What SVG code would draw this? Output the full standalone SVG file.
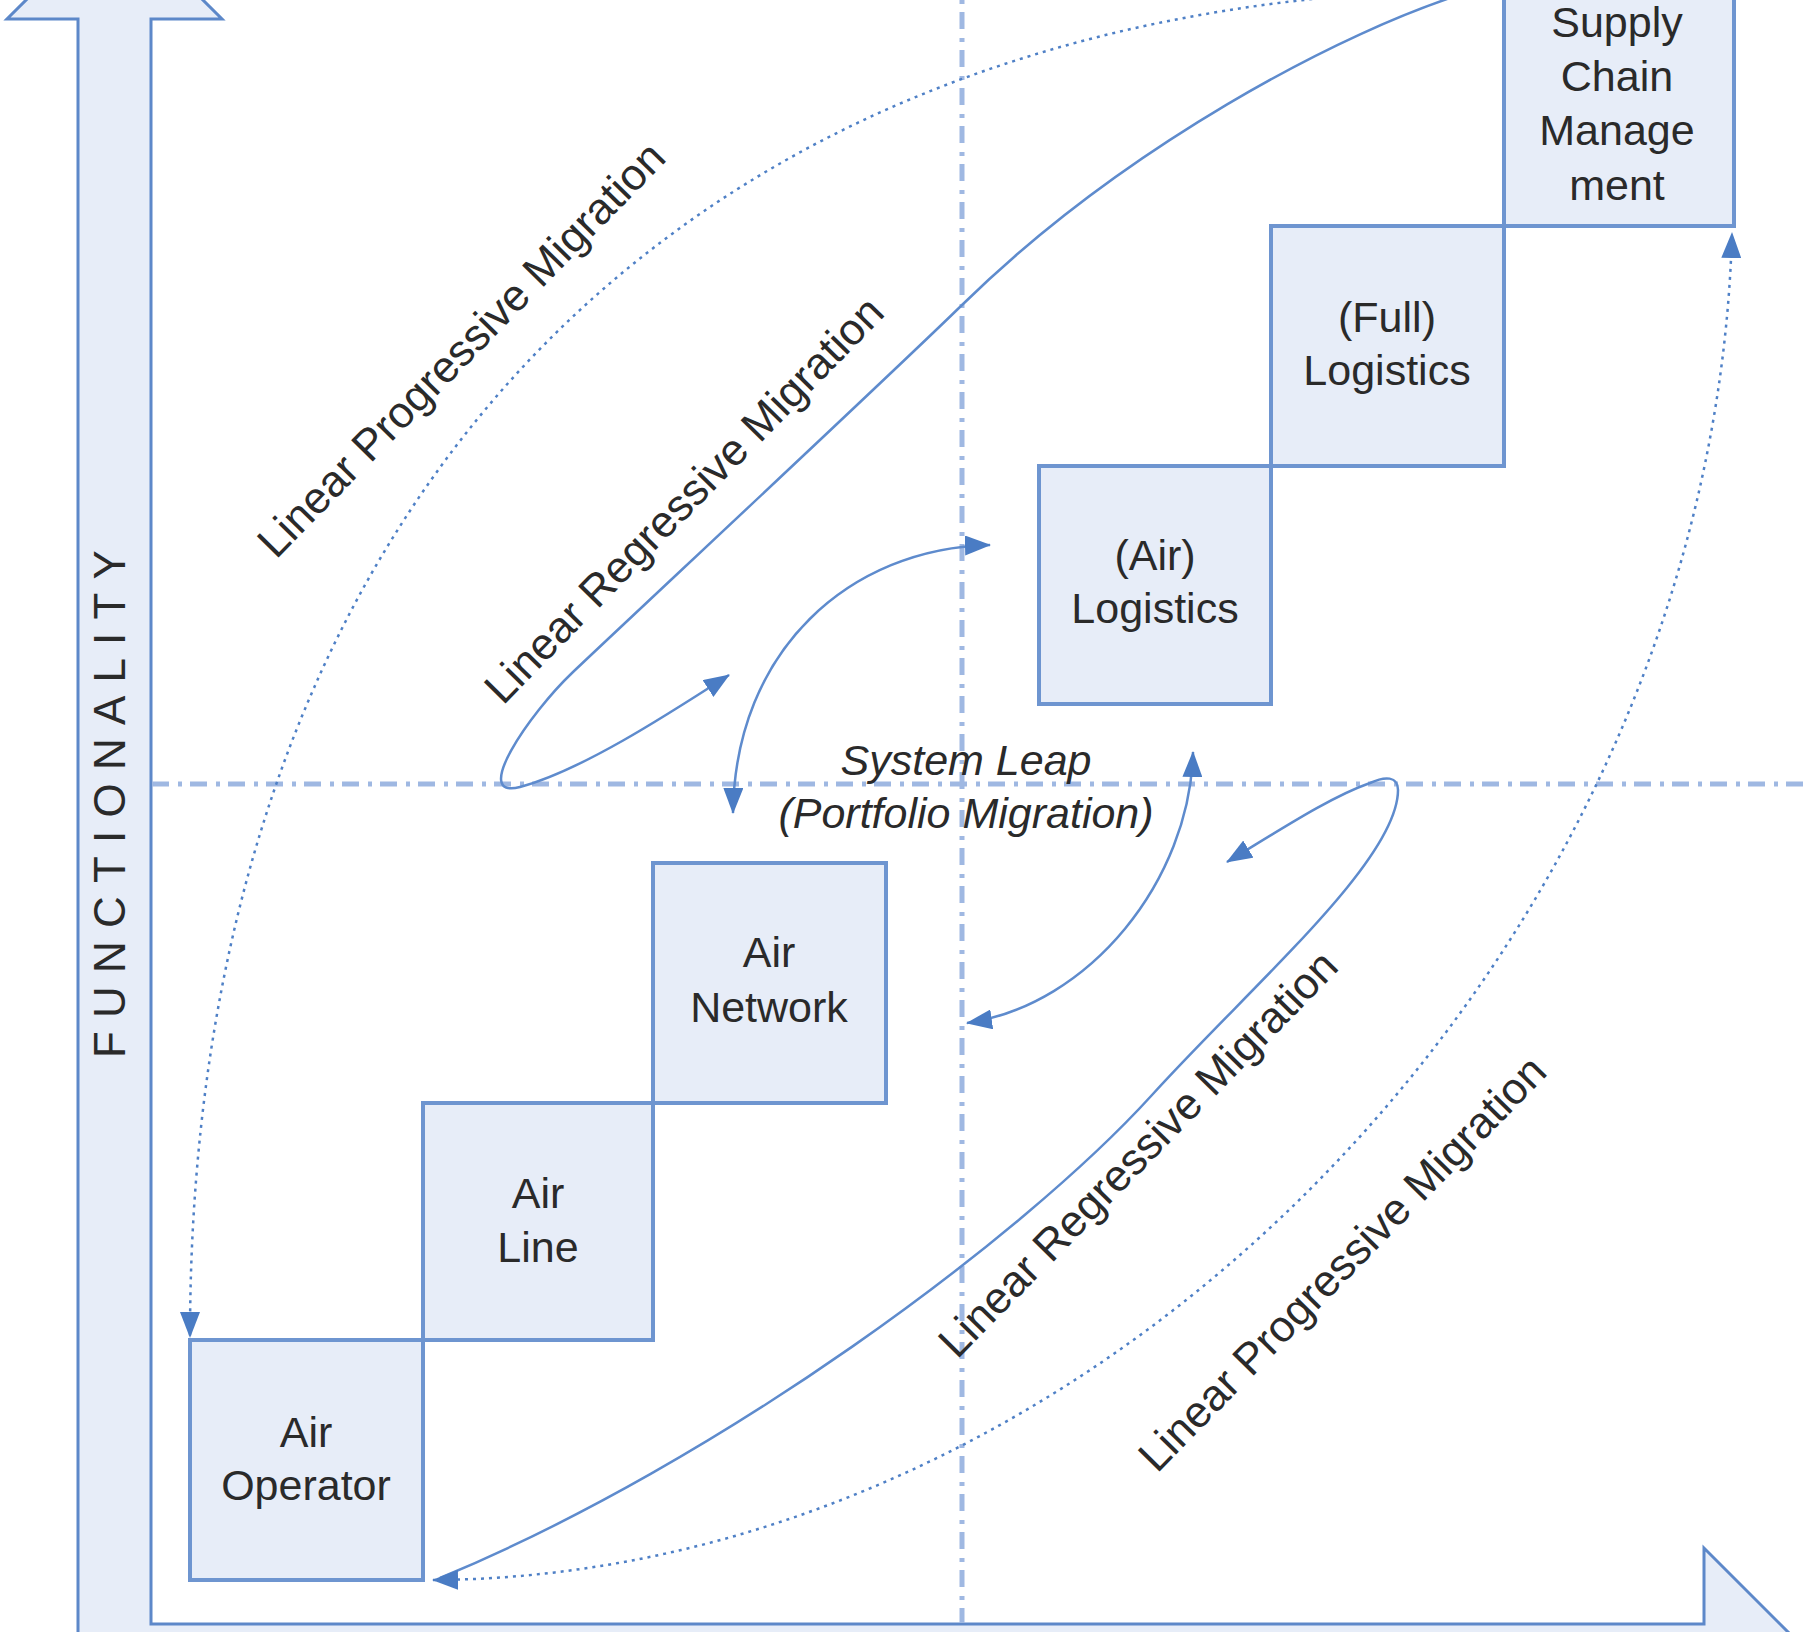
<svg xmlns="http://www.w3.org/2000/svg" width="1807" height="1632" viewBox="0 0 1807 1632">
<style>
.box{fill:#E7EDF8;stroke:#6E95D0;stroke-width:4}
.lbl{font-family:"Liberation Sans",Arial,sans-serif;font-size:43px;fill:#2A2A2A;text-anchor:middle}
.rot{font-family:"Liberation Sans",Arial,sans-serif;font-size:44px;fill:#2A2A2A}
.ital{font-family:"Liberation Sans",Arial,sans-serif;font-size:43px;fill:#2A2A2A;font-style:italic;text-anchor:middle}
.dd{stroke:#9FB8E2;stroke-width:5;fill:none;stroke-dasharray:17 9 4 8}
.prog{fill:none;stroke:#4F80C6;stroke-width:2.5;stroke-dasharray:3 5}
.reg{fill:none;stroke:#5E8BCD;stroke-width:2.5}
</style>
<defs>
<marker id="ah" viewBox="0 0 26 20" refX="25" refY="10" markerWidth="26" markerHeight="20" markerUnits="userSpaceOnUse" orient="auto-start-reverse">
<path d="M0,0 L26,10 L0,20 z" fill="#4A7CC4"/>
</marker>
</defs>
<rect width="1807" height="1632" fill="#FFFFFF"/>
<g id="axes">
<path d="M78,1700 L78,19 L7,19 L114.5,-88 L222,19 L151,19 L151,1624 L1704,1624 L1704,1548 L1817,1661 L1704,1774 L1704,1698 L78,1698 Z" fill="#E7EDF8" stroke="#5D88C9" stroke-width="3"/>
<text class="rot" font-size="46" letter-spacing="13.2" transform="translate(125,1058) rotate(-90)">FUNCTIONALITY</text>
</g>
<g id="quadrant-lines">
<line class="dd" x1="962" y1="0" x2="962" y2="1623" stroke-dashoffset="26"/>
<line class="dd" x1="152" y1="784" x2="1807" y2="784"/>
</g>
<g id="air-operator">
<rect class="box" x="190" y="1340" width="233" height="240"/>
<text class="lbl" x="306" y="1447">Air</text>
<text class="lbl" x="306" y="1500">Operator</text>
</g>
<g id="air-line">
<rect class="box" x="423" y="1103" width="230" height="237"/>
<text class="lbl" x="538" y="1208">Air</text>
<text class="lbl" x="538" y="1262">Line</text>
</g>
<g id="air-network">
<rect class="box" x="653" y="863" width="233" height="240"/>
<text class="lbl" x="769" y="967">Air</text>
<text class="lbl" x="769" y="1022">Network</text>
</g>
<g id="air-logistics">
<rect class="box" x="1039" y="466" width="232" height="238"/>
<text class="lbl" x="1155" y="570">(Air)</text>
<text class="lbl" x="1155" y="623">Logistics</text>
</g>
<g id="full-logistics">
<rect class="box" x="1271" y="226" width="233" height="240"/>
<text class="lbl" x="1387" y="332">(Full)</text>
<text class="lbl" x="1387" y="385">Logistics</text>
</g>
<g id="supply-chain-management">
<rect class="box" x="1504" y="-14" width="230" height="240"/>
<text class="lbl" x="1617" y="37">Supply</text>
<text class="lbl" x="1617" y="91">Chain</text>
<text class="lbl" x="1617" y="145">Manage</text>
<text class="lbl" x="1617" y="200">ment</text>
</g>
<g id="connectors">
<path class="prog" d="M1440,-10 C650,18 190,530 190,1337" marker-end="url(#ah)"/>
<path class="reg" d="M1475,-10 C1340,30 1120,150 962,305 C882,383 632,616 572,673 C530,713 470,800 520,787 C580,771 664,717 729,675" marker-end="url(#ah)"/>
<path class="reg" d="M990,545 C850,548 735,650 733,813" marker-start="url(#ah)" marker-end="url(#ah)"/>
<path class="reg" d="M1193,752 C1190,880 1090,1005 967,1023" marker-start="url(#ah)" marker-end="url(#ah)"/>
<path class="reg" d="M440,1578 C720,1462 1022,1238 1152,1095 C1252,985 1398,860 1398,790 C1398,776 1385,776 1370,783 C1330,797 1280,830 1227,862" marker-end="url(#ah)"/>
<path class="prog" d="M433,1580 C1100,1576 1712,950 1732,233" marker-start="url(#ah)" marker-end="url(#ah)"/>
</g>
<g id="labels">
<text class="rot" transform="translate(276,560) rotate(-45.6)">Linear Progressive Migration</text>
<text class="rot" transform="translate(503,706) rotate(-45.6)">Linear Regressive Migration</text>
<text class="rot" transform="translate(957,1360) rotate(-45.6)">Linear Regressive Migration</text>
<text class="rot" transform="translate(1157,1474) rotate(-45.6)">Linear Progressive Migration</text>
<text class="ital" x="966" y="775">System Leap</text>
<text class="ital" x="966" y="828">(Portfolio Migration)</text>
</g>
</svg>
